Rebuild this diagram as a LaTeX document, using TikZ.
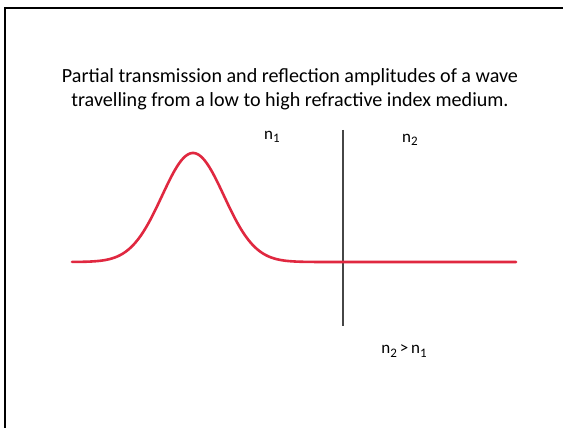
\documentclass[tikz,border=0pt]{standalone}
\usepackage{fontspec}
\setmainfont{Carlito}
\definecolor{wavered}{RGB}{224,40,64}
\definecolor{wallgray}{RGB}{70,70,70}
\newcommand{\lowsub}[1]{\raisebox{-0.45ex}{\fontsize{13}{14}\selectfont #1}}
\tikzset{
  lbl/.style={font=\fontsize{17}{20}\selectfont, inner sep=0pt},
  wave/.style={line width=2.6pt, wavered, line cap=round},
  wall/.style={line width=2.4pt, wallgray},
  frameline/.style={line width=2.8pt, black}
}
\begin{document}
\begin{tikzpicture}[x=1pt,y=-1pt]
\useasboundingbox (0,0) rectangle (563,428);
\fill[white] (0,0) rectangle (563,428);
% frame (top and left only visible)
\coordinate (fbl) at (5,428);
\coordinate (ftl) at (5,8);
\coordinate (ftr) at (563,8);
\draw[frameline] (fbl) -- (ftl) -- (ftr);
% title
\node[font=\fontsize{20.1}{23.5}\selectfont, align=center, inner sep=0pt] (title) at (290,89)
  {Partial transmission and reflection amplitudes of a wave\\travelling from a low to high refractive index medium.};
% wall
\coordinate (walltop) at (343,130);
\coordinate (wallbot) at (343,326);
\draw[wall] (walltop) -- (wallbot);
% wave
\coordinate (wstart) at (72,262);
\coordinate (wend) at (516,262);
\draw[wave] plot[domain=72:345, samples=160, smooth] (\x, {262-109*exp(-((\x-193)/31)^2/2)}) -- (wend);
% labels
\node[lbl] (n1) at (272,137) {n\lowsub{1}};
\node[lbl] (n2) at (410,140) {n\lowsub{2}};
\node[lbl] (rel) at (404,351) {n\lowsub{2}\,>\,n\lowsub{1}};
\end{tikzpicture}
\end{document}
